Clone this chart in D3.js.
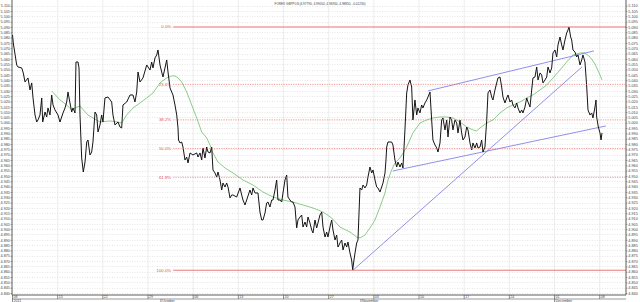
<!DOCTYPE html>
<html>
<head>
<meta charset="utf-8">
<script src="https://cdn.jsdelivr.net/npm/d3@7"></script>
<style>
  body { margin: 0; background: #fff; }
  svg { display: block; }
  text { font-family: "Liberation Sans", Arial, sans-serif; }
</style>
</head>
<body>
<div id="chart"></div>
<script>
const title = "FOREX GBPPLN (4.97790, 4.99050, 4.96950, 4.98850, -0.01230)";
const startDate = new Date(2011, 8, 8);
const endDate = new Date(2011, 11, 12);
const priceTicks = d3.range(4840, 5111, 5).map(v => v / 1000);
const weekLabels = ["08", "15", "22", "29", "06", "13", "20", "27", "03", "10", "17", "24", "01", "08"];
const monthLabels = ["2011", "October", "November", "December"];
const monthDates = [new Date(2011, 8, 8), new Date(2011, 9, 1), new Date(2011, 10, 1), new Date(2011, 11, 1)];

// [days since startDate, close]
const closes = [
  [0,5.0825],[0.12,5.075],[0.65,5.0543],[0.85,5.0524],[1.43,5.0515],[1.67,5.0468],[1.94,5.0383],[2.4,5.0421],
  [2.71,5.0308],[2.98,5.0374],[3.18,5.0233],[3.49,5.0073],[3.75,5.0007],[3.95,5.0026],[4.26,5.0073],[4.53,5.0233],
  [4.68,5.0007],[5.04,5.0101],[5.3,5.0054],[5.5,5.0139],[5.81,5.0073],[6.07,5.0261],[6.28,5.0167],[6.59,5.012],
  [7.05,5.0073],[7.36,5.0007],[7.62,5.0054],[7.83,5.0092],[8.14,5.0139],[8.4,5.0195],[8.6,5.0289],[8.91,5.0186],
  [9.17,5.0101],[9.38,5.0139],[9.69,5.0092],[9.84,5.0571],[10.15,5.0571],[10.31,5.0515],[10.46,5.0073],[10.72,4.9669],
  [10.97,4.9537],[11.24,4.9631],[11.5,4.9819],[11.7,4.9838],[12.01,4.9697],[12.27,4.9725],[12.47,4.9819],[12.79,5.0101],
  [13.05,5.0073],[13.25,4.9913],[13.56,4.9979],[13.82,5.0073],[14.02,5.0007],[14.33,5.0233],[14.8,5.0242],[15.37,5.0195],
  [15.57,5.0073],[15.88,4.9979],[16.35,5.0007],[16.66,4.996],[16.92,4.9951],[17.12,5.0167],[17.7,5.0195],[18.21,5.0261],
  [18.67,5.0261],[18.98,5.0195],[19.25,5.0289],[19.45,5.0477],[19.76,5.0383],[20.22,5.0421],[20.8,5.0543],[21.31,5.0496],
  [21.57,5.0571],[21.77,5.0515],[22.08,5.0609],[22.35,5.0637],[22.55,5.0684],[22.86,5.0543],[23.12,5.0477],[23.32,5.043],
  [23.63,5.0515],[23.9,5.059],[24.1,5.0477],[24.41,5.0327],[24.67,5.0289],[24.87,5.0261],[25.18,5.0167],[25.45,5.0073],
  [25.65,4.9951],[25.73,4.9838],[25.96,4.981],[26.22,4.9819],[26.42,4.9772],[26.73,4.965],[27.0,4.9678],[27.2,4.9622],
  [27.51,4.9716],[27.97,4.9697],[28.55,4.9716],[28.75,4.9678],[29.06,4.9716],[29.32,4.965],[29.52,4.9763],[29.83,4.9669],
  [30.1,4.9772],[30.3,4.9725],[30.61,4.9716],[30.87,4.9772],[31.07,4.9556],[31.38,4.9528],[31.64,4.949],[31.85,4.9537],
  [32.16,4.9462],[32.42,4.9368],[32.62,4.9434],[32.93,4.9396],[33.19,4.9434],[33.4,4.9396],[33.71,4.9293],[33.97,4.9321],
  [34.17,4.9321],[34.74,4.9302],[35.26,4.9387],[35.52,4.9321],[35.72,4.9274],[36.03,4.9227],[36.29,4.9274],[36.8,4.9368],
  [37.07,4.9321],[37.27,4.9387],[37.58,4.934],[38.04,4.934],[38.35,4.9161],[38.62,4.9086],[38.82,4.9086],[39.13,4.9152],
  [39.39,4.9246],[39.59,4.9255],[39.9,4.9208],[40.17,4.9274],[40.37,4.9274],[40.68,4.9368],[40.94,4.9462],[41.14,4.9274],
  [41.45,4.9274],[41.72,4.9255],[41.92,4.934],[42.23,4.9462],[42.49,4.9509],[42.69,4.9302],[43.0,4.9274],[43.27,4.9255],
  [43.47,4.9255],[43.78,4.9208],[44.04,4.9011],[44.24,4.9086],[44.55,4.9114],[44.82,4.9133],[45.02,4.902],[45.33,4.9067],
  [45.59,4.902],[45.79,4.9114],[46.1,4.9058],[46.37,4.8992],[46.57,4.8964],[46.88,4.9086],[47.14,4.9011],[47.34,4.9058],
  [47.65,4.9133],[47.92,4.9161],[48.12,4.902],[48.43,4.8926],[48.69,4.8973],[48.89,4.8926],[49.2,4.902],[49.47,4.9086],
  [49.67,4.8992],[49.98,4.8898],[50.24,4.8945],[50.44,4.8832],[50.75,4.887],[51.02,4.8898],[51.22,4.8804],[51.53,4.887],
  [51.79,4.8832],[51.99,4.8879],[52.3,4.8776],[52.56,4.871],[52.72,4.8616],[52.92,4.871],[53.08,4.8776],[53.34,4.887],
  [53.54,4.8898],[53.85,4.9387],[54.12,4.9368],[54.32,4.9415],[54.63,4.9387],[54.89,4.9415],[55.09,4.949],[55.4,4.9584],
  [55.67,4.9528],[55.87,4.9556],[56.18,4.9462],[56.44,4.9396],[56.64,4.9387],[56.95,4.9349],[57.21,4.9396],[57.42,4.9434],
  [57.73,4.9528],[57.88,4.965],[57.99,4.9772],[58.19,4.9819],[58.76,4.9819],[58.96,4.9791],[59.27,4.965],[59.54,4.9584],
  [59.74,4.9631],[60.05,4.9584],[60.31,4.9622],[60.51,4.9575],[60.82,4.9932],[61.09,5.028],[61.29,5.0355],[61.6,5.0402],
  [61.86,5.0336],[62.06,5.0026],[62.37,5.0214],[62.64,5.0073],[62.84,5.0139],[63.15,5.0092],[63.41,5.0167],[63.61,5.0139],
  [63.92,5.0186],[64.19,5.0214],[64.39,5.0242],[64.7,5.0289],[64.96,5.0026],[65.16,4.9838],[65.47,4.9791],[65.74,4.9763],
  [65.94,4.9725],[66.25,4.981],[66.51,5.0026],[66.71,5.0045],[67.02,4.9932],[67.29,5.0026],[67.49,4.9866],[67.8,5.0054],
  [68.06,5.0026],[68.26,4.9932],[68.57,5.0026],[68.84,4.9998],[69.04,4.9904],[69.35,5.0026],[69.61,4.9904],[69.81,4.9838],
  [70.12,4.9866],[70.39,4.996],[70.59,4.9932],[70.9,4.981],[71.16,4.9744],[71.36,4.981],[71.67,4.9763],[71.94,4.981],
  [72.14,4.9763],[72.45,4.9772],[72.71,4.9838],[72.91,4.9725],[73.22,4.9772],[73.49,5.0026],[73.69,5.028],[74.0,5.0308],
  [74.26,5.0242],[74.46,5.0214],[74.77,5.0308],[75.04,5.0374],[75.24,5.0421],[75.55,5.043],[75.81,5.0336],[76.01,5.0242],
  [76.32,5.0186],[76.59,5.0233],[76.79,5.0261],[77.1,5.0195],[77.36,5.0214],[77.56,5.0167],[77.87,5.0139],[78.14,5.0186],
  [78.34,5.0139],[78.65,5.0092],[78.91,5.012],[79.11,5.0092],[79.42,5.0148],[79.69,5.0233],[79.89,5.0195],[80.2,5.0148],
  [80.46,5.0308],[80.66,5.0421],[80.97,5.043],[81.24,5.0524],[81.44,5.0402],[81.75,5.0468],[82.01,5.0449],[82.21,5.0374],
  [82.52,5.0402],[82.79,5.043],[82.99,5.0524],[83.3,5.0468],[83.56,5.0515],[83.76,5.0656],[84.07,5.0684],[84.34,5.0618],
  [84.54,5.0731],[84.85,5.0806],[85.11,5.0731],[85.31,5.0684],[85.62,5.0778],[85.89,5.0844],[86.09,5.0872],[86.24,5.09],
  [86.5,5.0806],[86.66,5.0778],[86.86,5.0684],[87.17,5.0665],[87.43,5.0618],[87.64,5.0637],[87.95,5.0543],[88.21,5.059],
  [88.41,5.0637],[88.72,5.0571],[88.99,5.0336],[89.19,5.012],[89.5,5.0073],[89.76,5.0092],[89.96,5.0045],[90.27,5.0148],
  [90.43,5.0214],[90.53,5.0054],[90.79,4.996],[91.05,4.9904],[91.21,4.9838],[91.36,4.9904]
];

// moving average line, [days since startDate, value]
const average = [
  [6.07,5.0299],[7.36,5.0214],[8.4,5.0167],[9.17,5.012],[9.69,5.0139],[10.46,5.0158],[10.97,5.012],[11.7,5.0073],
  [12.47,5.0045],[13.56,5.0007],[15.11,5.0017],[16.35,5.0007],[16.92,4.9998],[17.7,5.0073],[18.67,5.0139],[19.76,5.0186],
  [20.8,5.0233],[21.77,5.028],[22.86,5.0374],[23.9,5.0421],[24.67,5.044],[25.18,5.044],[25.65,5.0421],[26.22,5.0383],
  [27.0,5.0289],[27.77,5.0167],[28.55,5.0045],[29.32,4.9913],[30.1,4.9857],[30.61,4.9791],[31.07,4.9716],[31.85,4.9631],
  [32.93,4.9575],[34.17,4.9528],[35.72,4.9462],[37.27,4.9415],[38.82,4.9349],[40.37,4.9302],[41.92,4.9274],[43.47,4.9255],
  [45.02,4.9227],[46.57,4.9199],[48.12,4.9161],[49.47,4.9105],[50.75,4.902],[52.3,4.8973],[53.34,4.8926],[53.85,4.8917],
  [54.63,4.8945],[55.4,4.9011],[56.18,4.9086],[56.95,4.9208],[57.73,4.934],[58.19,4.9462],[58.76,4.9556],[59.27,4.9622],
  [60.05,4.9669],[61.09,4.9772],[62.06,4.9904],[63.15,4.9998],[64.19,5.0026],[65.16,5.0045],[66.25,5.0054],[67.29,5.0054],
  [68.26,5.0045],[69.35,5.0007],[70.39,4.996],[71.36,4.9932],[71.94,4.9923],[72.45,4.9951],[73.49,4.9998],[74.46,5.0026],
  [75.55,5.0092],[76.59,5.0139],[77.56,5.0167],[78.65,5.0195],[79.69,5.0233],[80.66,5.0261],[81.75,5.0308],[82.79,5.0355],
  [83.76,5.0421],[84.85,5.0496],[85.89,5.0571],[86.86,5.0637],[87.95,5.0656],[88.72,5.0656],[89.5,5.0618],[90.27,5.0552],
  [91.05,5.0449],[91.36,5.0402]
];

// trend and channel lines, each [[day, price], [day, price]]
const trendLines = [
  [[58.96, 4.9547], [91.97, 4.9970]],
  [[64.39, 5.0299], [90.11, 5.0675]],
  [[52.80, 4.8616], [88.25, 5.0524]]
];

const fibHigh = 5.0900;
const fibLow = 4.8614;
const fibStartDay = 24.9;
const fibLevels = [0, 23.6, 38.2, 50.0, 61.8, 100.0];

const W = 640, H = 302;
const plotL = 12, plotR = 626, plotT = 0, plotB = 295;

const toDate = d => new Date(startDate.getTime() + d * 864e5);

const x = d3.scaleTime().domain([startDate, endDate]).range([12.5, 625.5]);
const y = d3.scaleLinear().domain([4.840, 5.110]).range([293, 5.7]);

const svg = d3.select("#chart").append("svg")
    .attr("width", W)
    .attr("height", H);

svg.append("defs").append("clipPath").attr("id", "plot")
  .append("rect")
    .attr("x", plotL).attr("y", plotT)
    .attr("width", plotR - plotL).attr("height", plotB - plotT);

const weekDates = weekLabels.map((_, i) => d3.timeDay.offset(startDate, 7 * i));

// grid
svg.append("g").selectAll("line")
  .data(priceTicks)
  .enter().append("line")
    .attr("x1", plotL).attr("x2", plotR)
    .attr("y1", d => Math.round(y(d)) + 0.5)
    .attr("y2", d => Math.round(y(d)) + 0.5)
    .attr("stroke", "#d6d6d6")
    .attr("stroke-width", 0.6)
    .attr("stroke-dasharray", "1,1.5");

svg.append("g").selectAll("line")
  .data(weekDates.slice(1))
  .enter().append("line")
    .attr("x1", d => x(d)).attr("x2", d => x(d))
    .attr("y1", plotT).attr("y2", plotB)
    .attr("stroke", "#e0e0e0")
    .attr("stroke-width", 0.6);

// fibonacci retracement
const plot = svg.append("g").attr("clip-path", "url(#plot)");
const fib = svg.append("g");
fibLevels.forEach(p => {
  const v = fibHigh - (fibHigh - fibLow) * p / 100;
  const solid = p === 0 || p === 100;
  fib.append("line")
    .attr("x1", x(toDate(fibStartDay))).attr("x2", plotR)
    .attr("y1", y(v)).attr("y2", y(v))
    .attr("stroke", "#e66a6a")
    .attr("stroke-width", solid ? 0.9 : 0.7)
    .attr("stroke-dasharray", solid ? null : "1.2,1.2");
  fib.append("text")
    .attr("x", x(toDate(fibStartDay)) - 2)
    .attr("y", y(v) + 1.5)
    .attr("text-anchor", "end")
    .attr("font-size", 4.3)
    .attr("fill", "#e25252")
    .text(p.toFixed(1) + "%");
});

const line = d3.line()
    .x(d => x(toDate(d[0])))
    .y(d => y(d[1]));

plot.append("path")
    .datum(average)
    .attr("fill", "none")
    .attr("stroke", "#6cbf6c")
    .attr("stroke-width", 0.8)
    .attr("d", line);

plot.selectAll(".trend")
  .data(trendLines)
  .enter().append("path")
    .attr("class", "trend")
    .attr("fill", "none")
    .attr("stroke", "#7474e6")
    .attr("stroke-width", 0.8)
    .attr("d", line);

plot.append("path")
    .datum(closes)
    .attr("fill", "none")
    .attr("stroke", "#151515")
    .attr("stroke-width", 1)
    .attr("stroke-linejoin", "round")
    .attr("d", line);

// price axes
function styleAxis(g) {
  g.select(".domain").attr("stroke", "#333").attr("stroke-width", 0.8);
  g.selectAll(".tick line").attr("stroke", "#555").attr("stroke-width", 0.5);
  g.selectAll(".tick text").attr("font-size", 3.8).attr("fill", "#444");
}

svg.append("g")
    .attr("transform", `translate(${plotL},0)`)
    .call(d3.axisLeft(y).tickValues(priceTicks).tickSize(1.5).tickSizeOuter(0).tickPadding(0.5).tickFormat(d3.format(".3f")))
    .call(g => g.select(".domain").attr("d", `M0,${plotT}V${plotB}`))
    .call(styleAxis);

svg.append("g")
    .attr("transform", `translate(${plotR},0)`)
    .call(d3.axisRight(y).tickValues(priceTicks).tickSize(1.5).tickSizeOuter(0).tickPadding(0.8).tickFormat(d3.format(".3f")))
    .call(g => g.select(".domain").attr("d", `M0,${plotT}V${plotB}`))
    .call(styleAxis);

// date strip
const strip = svg.append("g");
strip.append("line")
    .attr("x1", plotL).attr("x2", plotR)
    .attr("y1", plotB).attr("y2", plotB)
    .attr("stroke", "#333").attr("stroke-width", 0.8);
strip.append("line")
    .attr("x1", plotL).attr("x2", plotR)
    .attr("y1", 299).attr("y2", 299)
    .attr("stroke", "#555").attr("stroke-width", 0.6);

strip.selectAll(".wk")
  .data(weekDates)
  .enter().append("line")
    .attr("class", "wk")
    .attr("x1", d => x(d)).attr("x2", d => x(d))
    .attr("y1", plotB).attr("y2", 299)
    .attr("stroke", "#444").attr("stroke-width", 0.6);

strip.selectAll(".wkl")
  .data(weekDates)
  .enter().append("text")
    .attr("class", "wkl")
    .attr("x", d => x(d) + 1)
    .attr("y", 298.4)
    .attr("font-size", 3.6)
    .attr("fill", "#444")
    .text((d, i) => weekLabels[i]);

strip.selectAll(".mo")
  .data(monthDates)
  .enter().append("line")
    .attr("class", "mo")
    .attr("x1", d => x(d)).attr("x2", d => x(d))
    .attr("y1", 299).attr("y2", 302)
    .attr("stroke", "#444").attr("stroke-width", 0.6);

strip.selectAll(".mol")
  .data(monthDates)
  .enter().append("text")
    .attr("class", "mol")
    .attr("x", d => x(d) + 1)
    .attr("y", 302)
    .attr("font-size", 3.6)
    .attr("fill", "#444")
    .text((d, i) => monthLabels[i]);

svg.append("text")
    .attr("x", 320)
    .attr("y", 5)
    .attr("text-anchor", "middle")
    .attr("font-size", 3.8)
    .attr("textLength", 91)
    .attr("lengthAdjust", "spacingAndGlyphs")
    .attr("fill", "#444")
    .text(title);
</script>
</body>
</html>
